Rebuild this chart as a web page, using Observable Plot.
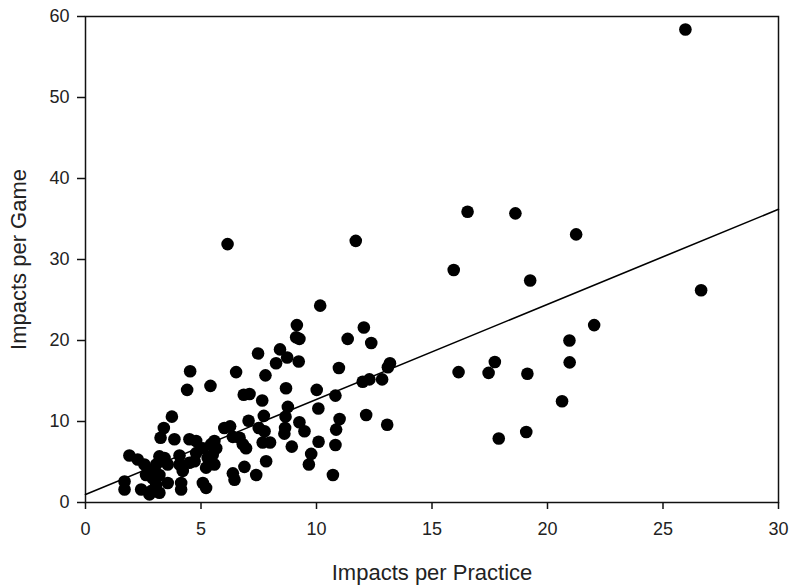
<!DOCTYPE html>
<html>
<head>
<meta charset="utf-8">
<script src="https://cdn.jsdelivr.net/npm/d3@7"></script>
<script src="https://cdn.jsdelivr.net/npm/@observablehq/plot@0.6"></script>
<style>
  html, body { margin: 0; padding: 0; background: #fff; }
  #chart { width: 800px; height: 587px; }
</style>
</head>
<body>
<div id="chart"></div>
<script>
// Impacts per practice (x) and impacts per game (y)
const practice = [
  25.97, 6.15, 11.7,
  16.54, 18.61, 21.24, 15.94, 19.25, 26.65, 22.02, 20.95, 20.96, 17.72, 16.15, 17.45, 19.13, 20.63, 19.08, 17.89,
  10.16, 9.15, 9.12, 9.26, 12.05, 11.35, 12.37, 7.47, 8.42, 8.73, 8.25, 9.23, 6.52, 7.79, 10.97, 13.18, 13.09,
  5.41, 6.85, 7.1, 7.65, 8.68, 10.01, 10.82, 12.0, 12.29, 12.84, 8.76, 10.08, 7.72, 7.06, 8.66, 8.64, 8.61,
  9.26, 9.48, 11.0, 10.85, 12.15, 13.06, 6.26, 6.01, 6.67, 6.38, 7.5, 7.75, 6.81, 6.95, 7.67, 7.99, 8.93,
  10.09, 9.77, 9.67, 10.82, 10.71, 7.82, 6.88, 6.38, 6.45, 7.39, 5.58, 5.66, 5.08, 5.22,
  4.53, 4.4, 3.74, 3.39, 3.25, 3.85, 4.5, 4.79, 4.07, 1.9, 2.26, 2.55, 3.2, 3.06, 3.42, 3.56,
  2.84, 2.91, 2.62, 3.2, 3.06, 2.84, 2.77, 3.2, 1.69, 1.69, 2.41, 3.56, 4.14, 4.14,
  4.07, 4.21, 4.5, 4.72, 4.79, 5.08, 5.44, 5.29, 5.51, 5.22, 5.58
];
const game = [
  58.4, 31.9, 32.3,
  35.9, 35.7, 33.1, 28.7, 27.4, 26.2, 21.9, 20.0, 17.3, 17.35, 16.1, 16.0, 15.9, 12.5, 8.7, 7.9,
  24.3, 21.9, 20.4, 20.2, 21.6, 20.2, 19.7, 18.4, 18.9, 17.9, 17.2, 17.4, 16.1, 15.7, 16.6, 17.2, 16.7,
  14.4, 13.3, 13.4, 12.6, 14.1, 13.9, 13.2, 14.9, 15.2, 15.2, 11.8, 11.6, 10.7, 10.1, 10.6, 9.2, 8.5,
  9.9, 8.8, 10.3, 9.0, 10.8, 9.6, 9.4, 9.2, 8.0, 8.1, 9.2, 8.8, 7.2, 6.7, 7.4, 7.4, 6.9,
  7.5, 6.0, 4.7, 7.1, 3.4, 5.1, 4.4, 3.6, 2.8, 3.4, 7.6, 6.7, 2.4, 1.8,
  16.2, 13.9, 10.6, 9.2, 8.0, 7.8, 7.8, 7.6, 5.8, 5.8, 5.3, 4.7, 5.7, 4.7, 5.5, 4.7,
  3.9, 3.0, 3.4, 3.4, 2.2, 1.4, 1.0, 1.2, 2.6, 1.6, 1.6, 2.4, 2.4, 1.6,
  4.7, 3.9, 4.9, 5.1, 6.1, 6.7, 7.2, 5.5, 5.9, 4.3, 4.7
];
// Fitted regression line end points
const fitX = [0, 30];
const fitY = [1.0, 36.2];

const xTicks = [0, 5, 10, 15, 20, 25, 30];
const yTicks = [0, 10, 20, 30, 40, 50, 60];
const xTitle = "Impacts per Practice";
const yTitle = "Impacts per Game";

const points = practice.map((p, i) => ({practice: p, game: game[i]}));
const fit = fitX.map((x, i) => ({x, y: fitY[i]}));

const chart = Plot.plot({
  width: 800,
  height: 587,
  marginLeft: 85,
  marginRight: 22,
  marginTop: 16,
  marginBottom: 85,
  style: {fontFamily: "'Liberation Sans', Arial, sans-serif", fontSize: "18px", color: "#222", background: "#fff"},
  x: {domain: [0, 30]},
  y: {domain: [0, 60]},
  marks: [
    Plot.frame({stroke: "#111", strokeWidth: 1.5}),
    Plot.axisX({ticks: xTicks, tickSize: 7, tickPadding: 13, label: null, stroke: "#111", strokeWidth: 1.5}),
    Plot.axisY({ticks: yTicks, tickSize: 8, tickPadding: 8, label: null, stroke: "#111", strokeWidth: 1.5}),
    Plot.line(fit, {x: "x", y: "y", stroke: "#000", strokeWidth: 1.6}),
    Plot.dot(points, {x: "practice", y: "game", r: 6.3, fill: "#000", stroke: "none"}),
    Plot.text([xTitle], {frameAnchor: "bottom", textAnchor: "middle", lineAnchor: "middle", dy: 70, fontSize: 22, fill: "#222"}),
    Plot.text([yTitle], {frameAnchor: "left", textAnchor: "middle", lineAnchor: "middle", dx: -67, rotate: -90, fontSize: 22, fill: "#222"})
  ]
});
document.getElementById("chart").appendChild(chart);
</script>
</body>
</html>
